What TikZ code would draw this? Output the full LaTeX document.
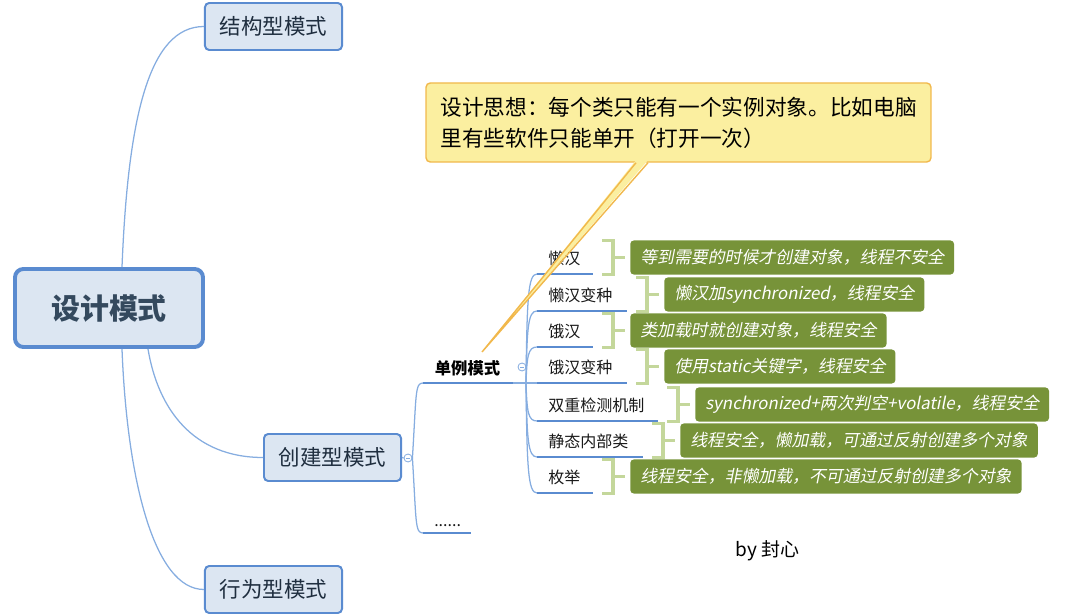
\documentclass[tikz,border=0pt]{standalone}
\usepackage{fontspec}
\setmainfont{Noto Sans CJK SC}
\newfontfamily\noteslant[FakeSlant=0.2]{Noto Sans CJK SC}
\usepackage{tikz}
\usetikzlibrary{
  positioning,
  calc
}
\definecolor{mmBlue}{HTML}{5A8BD0}
\definecolor{mmFill}{HTML}{DCE6F2}
\definecolor{mmLine}{HTML}{86ADE0}
\definecolor{mmText}{HTML}{1F2E3F}
\definecolor{mmRoot}{HTML}{34495E}
\definecolor{mmNote}{HTML}{779339}
\definecolor{mmBrk}{HTML}{C4D79B}
\definecolor{mmCall}{HTML}{FBEFA0}
\definecolor{mmCallLine}{HTML}{F1B84C}
\tikzset{
  topic/.style={
    draw=mmBlue, fill=mmFill, rounded corners=3pt, line width=1.4pt,
    minimum width=3.425cm, minimum height=1.175cm, inner sep=0pt,
    text=mmText, font=\fontsize{15.3}{18}\selectfont
  },
  root/.style={topic, line width=2.8pt, rounded corners=6pt,
    minimum width=4.7cm, minimum height=1.95cm,
    text=mmRoot, font=\fontsize{20.6}{24}\selectfont\bfseries},
  branch/.style={mmLine, line width=0.9pt},
  uline/.style={mmBlue, line width=2.1pt},
  leaf/.style={anchor=west, inner sep=0pt, text=black!90, font=\fontsize{11.4}{14}\selectfont},
  note/.style={
    fill=mmNote, rounded corners=2.5pt, anchor=west, inner xsep=0.25cm,
    minimum height=0.85cm, text=white, font=\fontsize{12}{14}\selectfont\noteslant
  },
  notebrk/.style={mmBrk, line width=2.8pt},
  fold/.style={circle, draw=mmLine, fill=white, inner sep=0pt, minimum size=0.2cm, line width=0.6pt,
    path picture={\draw[mmLine, line width=0.5pt]
      ([xshift=-1.3pt]path picture bounding box.center) -- ([xshift=1.3pt]path picture bounding box.center);}},
  callout/.style={
    draw=mmCallLine, fill=mmCall, line width=1pt, rounded corners=3pt,
    align=left, text width=11.9cm, inner xsep=0.36cm, minimum height=1.975cm,
    text=black, font=\fontsize{15.4}{22}\selectfont
  }
}
\newcommand{\notebrace}[1]{%
  \draw[notebrk] ($(#1.west)+(-28,-17)$) -| ($(#1.west)+(-17,17)$) -- ($(#1.west)+(-28,17)$)
    ($(#1.west)+(-17,0)$) -- ($(#1.west)+(-5,0)$);}

\begin{document}
\begin{tikzpicture}[x=0.025cm, y=-0.025cm]
  \useasboundingbox (0,0) rectangle (1080,616);
  \node[root] (root) at (109,308) {设计模式};
  \node[topic] (struct) at (273.5,26.5) {结构型模式};
  \node[topic] (create) at (332.5,457.5) {创建型模式};
  \node[topic] (behave) at (273.5,589.5) {行为型模式};
  \draw[branch] ($(root.north)+(13,0)$) .. controls +(6,-150) and +(-55,0) .. (struct.west);
  \draw[branch] ($(root.south)+(39,0)$) .. controls +(10,60) and +(-70,0) .. (create.west);
  \draw[branch] ($(root.south)+(13,0)$) .. controls +(5,130) and +(-50,0) .. (behave.west);

  \node[fold] (createFold) at (408,458) {};
  \draw[branch] (create.east) -- (createFold.west);
  \coordinate (singleA) at (423,383);
  \coordinate (singleB) at (513,383);
  \coordinate (moreA) at (423,533);
  \coordinate (moreB) at (471,533);
  \draw[branch] (createFold.east) .. controls +(4,-65) and +(-8,0) .. (singleA);
  \draw[branch] (createFold.east) .. controls +(4,65) and +(-8,0) .. (moreA);
  \draw[uline] (singleA) -- (singleB);
  \draw[uline] (moreA) -- (moreB);
  \node[font=\fontsize{11.6}{14}\selectfont\bfseries] (single) at (467.5,368) {单例模式};
  \node[leaf, anchor=base west] (more) at (434,526) {......};
  \node[fold] (singleFold) at (522,367) {};

  \coordinate (lazyA) at (537,274);      \coordinate (lazyB) at (593,274);
  \coordinate (lazyVarA) at (537,311);   \coordinate (lazyVarB) at (627,311);
  \coordinate (eagerA) at (537,347);     \coordinate (eagerB) at (593,347);
  \coordinate (eagerVarA) at (537,383);  \coordinate (eagerVarB) at (627,383);
  \coordinate (dclA) at (537,421);       \coordinate (dclB) at (658,421);
  \coordinate (innerA) at (537,457);     \coordinate (innerB) at (643,457);
  \coordinate (enumA) at (537,493);      \coordinate (enumB) at (593,493);
  \coordinate (singleHub) at (526,383);

  \draw[branch] (singleB) -- (eagerVarA);
  \draw[branch] (singleHub) .. controls +(1,-85) and +(-9,0) .. (lazyA);
  \draw[branch] (singleHub) .. controls +(1,-56) and +(-9,0) .. (lazyVarA);
  \draw[branch] (singleHub) .. controls +(1,-27) and +(-9,0) .. (eagerA);
  \draw[branch] (singleHub) .. controls +(1,29) and +(-9,0) .. (dclA);
  \draw[branch] (singleHub) .. controls +(1,57) and +(-9,0) .. (innerA);
  \draw[branch] (singleHub) .. controls +(1,85) and +(-9,0) .. (enumA);

  \draw[uline] (lazyA) -- (lazyB);
  \draw[uline] (lazyVarA) -- (lazyVarB);
  \draw[uline] (eagerA) -- (eagerB);
  \draw[uline] (eagerVarA) -- (eagerVarB);
  \draw[uline] (dclA) -- (dclB);
  \draw[uline] (innerA) -- (innerB);
  \draw[uline] (enumA) -- (enumB);

  \node[leaf] (lazy) at ($(lazyA)+(11,-16)$) {懒汉};
  \node[leaf] (lazyVar) at ($(lazyVarA)+(11,-16)$) {懒汉变种};
  \node[leaf] (eager) at ($(eagerA)+(11,-16)$) {饿汉};
  \node[leaf] (eagerVar) at ($(eagerVarA)+(11,-16)$) {饿汉变种};
  \node[leaf] (dcl) at ($(dclA)+(11,-16)$) {双重检测机制};
  \node[leaf] (inner) at ($(innerA)+(11,-16)$) {静态内部类};
  \node[leaf] (enum) at ($(enumA)+(11,-16)$) {枚举};

  \node[note] (lazyNote) at ($(lazyB)+(37,-16.5)$) {等到需要的时候才创建对象，线程不安全};
  \node[note] (lazyVarNote) at ($(lazyVarB)+(37,-16.5)$) {懒汉加synchronized，线程安全};
  \node[note] (eagerNote) at ($(eagerB)+(37,-16.5)$) {类加载时就创建对象，线程安全};
  \node[note] (eagerVarNote) at ($(eagerVarB)+(37,-16.5)$) {使用static关键字，线程安全};
  \node[note] (dclNote) at ($(dclB)+(37,-16.5)$) {synchronized+两次判空+volatile，线程安全};
  \node[note] (innerNote) at ($(innerB)+(37,-16.5)$) {线程安全，懒加载，可通过反射创建多个对象};
  \node[note] (enumNote) at ($(enumB)+(37,-16.5)$) {线程安全，非懒加载，不可通过反射创建多个对象};
  \notebrace{lazyNote}
  \notebrace{lazyVarNote}
  \notebrace{eagerNote}
  \notebrace{eagerVarNote}
  \notebrace{dclNote}
  \notebrace{innerNote}
  \notebrace{enumNote}

  \node[callout] (idea) at (678.5,122.5) {设计思想：每个类只能有一个实例对象。比如电脑\\里有些软件只能单开（打开一次）};
  \coordinate (ideaTip) at (482,352);
  \fill[mmCall] ($(idea.south)+(-42.5,-2.5)$) -- (ideaTip) -- ($(idea.south)+(-30.5,-2.5)$) -- cycle;
  \draw[mmCallLine, line width=1pt] ($(idea.south)+(-42.5,0)$) -- (ideaTip) -- ($(idea.south)+(-30.5,0)$);

  \node[font=\fontsize{13.5}{16}\selectfont] (author) at (767.5,551) {by 封心};
\end{tikzpicture}
\end{document}
